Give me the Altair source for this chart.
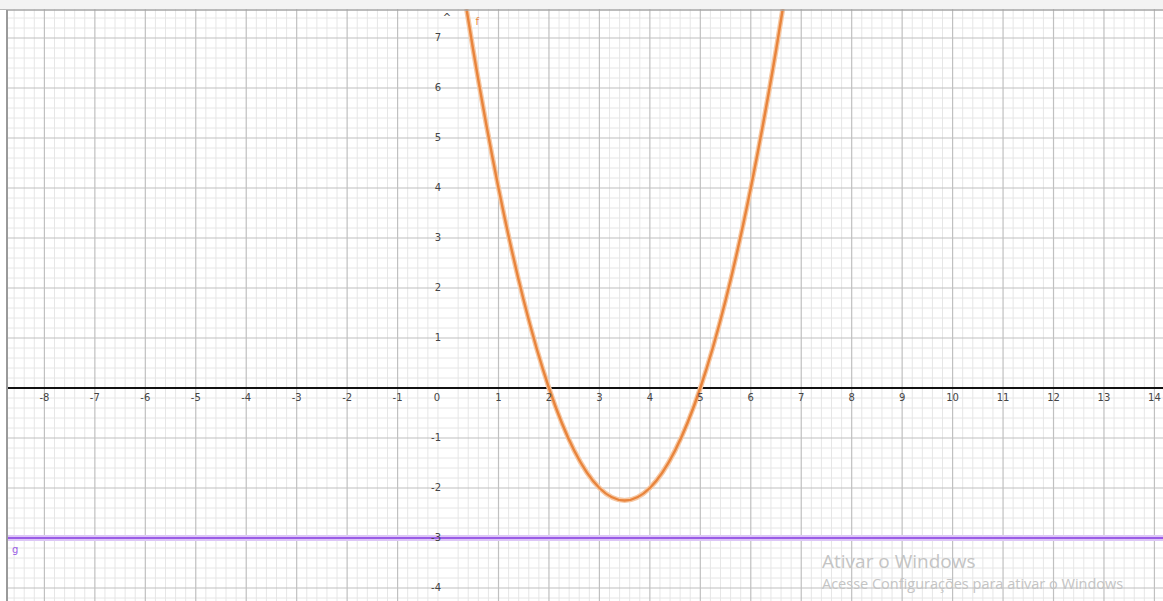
import altair as alt
import pandas as pd

# ---- data -------------------------------------------------------------
# f(x) read at half-unit steps (roots at 2 and 5, vertex at 3.5)
f_x = [0.3, 0.5, 1.0, 1.5, 2.0, 2.5, 3.0, 3.5, 4.0, 4.5, 5.0, 5.5, 6.0, 6.5, 6.7]
f_y = [7.99, 6.75, 4.0, 1.75, 0.0, -1.25, -2.0, -2.25, -2.0, -1.25, 0.0, 1.75, 4.0, 6.75, 7.99]

# horizontal line g
g_y = [-3]

# axis tick labels
x_ticks = [-8, -7, -6, -5, -4, -3, -2, -1, 1, 2, 3, 4, 5, 6, 7, 8, 9, 10, 11, 12, 13, 14]
y_ticks = [-4, -3, -2, -1, 1, 2, 3, 4, 5, 6, 7]

# grid: majors every unit, minors every 0.2
major_x = [v for v in range(-8, 15) if v != 0]
major_y = [v for v in range(-4, 8) if v != 0]
minor_x = [i / 5 for i in range(-44, 71) if i % 5]
minor_y = [i / 5 for i in range(-21, 39) if i % 5]

# ---- scales -----------------------------------------------------------
W, H = 1163, 601
xs = alt.Scale(domain=[-8.88, 14.17], nice=False, zero=False)
ys = alt.Scale(domain=[-4.26, 7.76], nice=False, zero=False)

FONT = "DejaVu Sans"
MINOR = "#e6e6e6"
MAJOR = "#c0c0c0"
ORANGE = "#e8843c"
PURPLE = "#9a5ce6"


def vrules(vals, color, width):
    return alt.Chart(pd.DataFrame({"v": vals})).mark_rule(
        color=color, strokeWidth=width
    ).encode(x=alt.X("v:Q", scale=xs, axis=None))


def hrules(vals, color, width):
    return alt.Chart(pd.DataFrame({"v": vals})).mark_rule(
        color=color, strokeWidth=width
    ).encode(y=alt.Y("v:Q", scale=ys, axis=None))


grid = alt.layer(
    vrules(minor_x, MINOR, 1),
    hrules(minor_y, MINOR, 1),
    vrules(major_x, MAJOR, 1.2),
    hrules(major_y, MAJOR, 1.2),
)

x_axis = alt.Chart(pd.DataFrame({"v": [0]})).mark_rule(
    color="#111111", strokeWidth=1.8
).encode(y=alt.Y("v:Q", scale=ys, axis=None), x=alt.value(7), x2=alt.value(W))

# line g with a soft halo
g_df = pd.DataFrame({"v": g_y})
g_halo = alt.Chart(g_df).mark_rule(color="#dcc6f7", strokeWidth=6).encode(
    y=alt.Y("v:Q", scale=ys, axis=None), x=alt.value(7), x2=alt.value(W)
)
g_line = alt.Chart(g_df).mark_rule(color=PURPLE, strokeWidth=2).encode(
    y=alt.Y("v:Q", scale=ys, axis=None), x=alt.value(7), x2=alt.value(W)
)

# parabola f
f_df = pd.DataFrame({"x": f_x, "y": f_y})
f_halo = alt.Chart(f_df).mark_line(
    color="#f6c8a4", strokeWidth=5, interpolate="monotone", clip=True
).encode(x=alt.X("x:Q", scale=xs, axis=None), y=alt.Y("y:Q", scale=ys, axis=None))
f_line = alt.Chart(f_df).mark_line(
    color=ORANGE, strokeWidth=2.4, interpolate="monotone", clip=True
).encode(x=alt.X("x:Q", scale=xs, axis=None), y=alt.Y("y:Q", scale=ys, axis=None))

# tick labels
x_lab = alt.Chart(
    pd.DataFrame({"v": x_ticks, "t": [str(v) for v in x_ticks], "z": [0] * len(x_ticks)})
).mark_text(font=FONT, fontSize=10, color="#444444", dy=10, baseline="middle").encode(
    x=alt.X("v:Q", scale=xs, axis=None), y=alt.Y("z:Q", scale=ys, axis=None), text="t:N"
)
y_lab = alt.Chart(
    pd.DataFrame({"v": y_ticks, "t": [str(v) for v in y_ticks], "z": [0] * len(y_ticks)})
).mark_text(font=FONT, fontSize=10, color="#444444", dx=-7, align="right", baseline="middle").encode(
    y=alt.Y("v:Q", scale=ys, axis=None), x=alt.X("z:Q", scale=xs, axis=None), text="t:N"
)
origin = alt.Chart(pd.DataFrame({"x": [0], "y": [0], "t": ["0"]})).mark_text(
    font=FONT, fontSize=10, color="#444444", dx=-11, dy=10, baseline="middle"
).encode(x=alt.X("x:Q", scale=xs, axis=None), y=alt.Y("y:Q", scale=ys, axis=None), text="t:N")

arrow = alt.Chart(pd.DataFrame({"x": [0], "t": ["^"]})).mark_text(
    font=FONT, fontSize=10, color="#444444", dx=-1
).encode(x=alt.X("x:Q", scale=xs, axis=None), y=alt.value(18), text="t:N")

# object names
names = alt.Chart(
    pd.DataFrame({"x": [0.58, -8.58], "y": [7.33, -3.24], "t": ["f", "g"], "c": [ORANGE, PURPLE]})
).mark_text(font=FONT, fontSize=10, baseline="middle").encode(
    x=alt.X("x:Q", scale=xs, axis=None),
    y=alt.Y("y:Q", scale=ys, axis=None),
    text="t:N",
    color=alt.Color("c:N", scale=None),
)

# window frame: top band and left edge
top_band = alt.Chart(pd.DataFrame({"a": [0]})).mark_rect(color="#f3f3f3").encode(
    x=alt.value(0), x2=alt.value(W), y=alt.value(0), y2=alt.value(9)
)
top_edge = alt.Chart(pd.DataFrame({"a": [0]})).mark_rule(color="#a5a5a5", strokeWidth=1.5).encode(
    x=alt.value(0), x2=alt.value(W), y=alt.value(10)
)
left_white = alt.Chart(pd.DataFrame({"a": [0]})).mark_rect(color="#ffffff").encode(
    x=alt.value(0), x2=alt.value(6), y=alt.value(10), y2=alt.value(H)
)
left_edge = alt.Chart(pd.DataFrame({"a": [0]})).mark_rule(color="#9a9a9a", strokeWidth=2).encode(
    x=alt.value(7), y=alt.value(10), y2=alt.value(H)
)

# activation notice text
notice = alt.Chart(
    pd.DataFrame({"t": ["Ativar o Windows", "Acesse Configurações para ativar o Windows"],
                  "px": [822, 822], "py": [562, 585], "s": [19, 14.5]})
).mark_text(font="Open Sans", color="#c4c4c4", align="left", baseline="middle").encode(
    text="t:N",
    x=alt.X("px:Q", scale=None),
    y=alt.Y("py:Q", scale=None),
    size=alt.Size("s:Q", scale=None, legend=None),
)

chart = alt.layer(
    grid,
    x_axis,
    g_halo,
    g_line,
    f_halo,
    f_line,
    x_lab,
    y_lab,
    origin,
    arrow,
    names,
    notice,
    top_band,
    top_edge,
    left_white,
    left_edge,
).properties(
    width=W, height=H, autosize="none", padding=0, background="white"
).configure_view(stroke=None)

chart.save("out.html", embed_options={"renderer": "svg", "actions": False})
